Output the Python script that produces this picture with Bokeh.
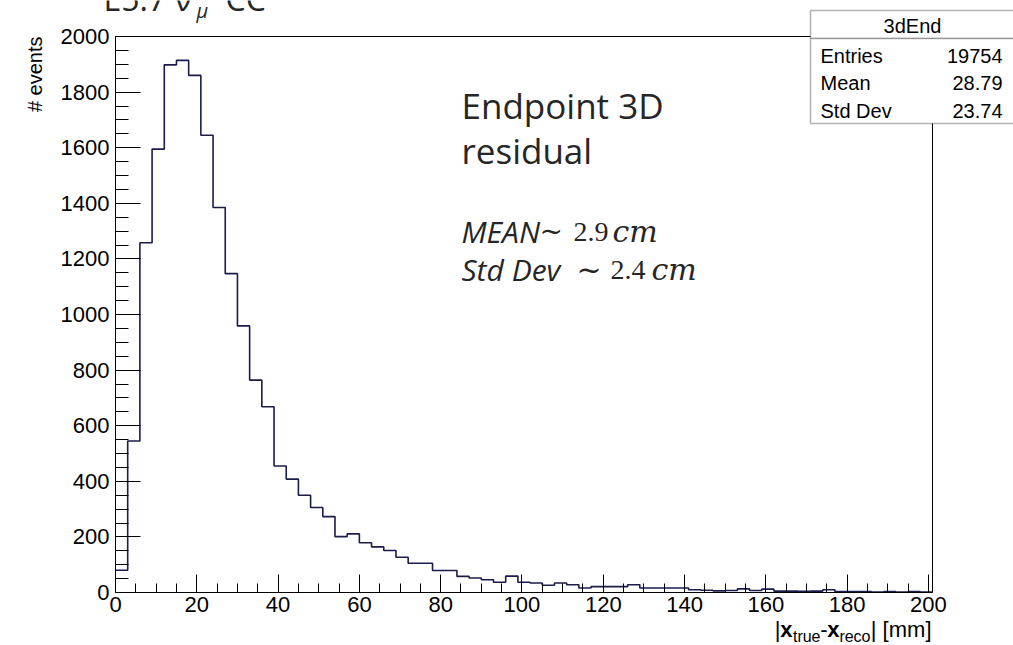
import numpy as np
from bokeh.plotting import figure
from bokeh.models import Range1d, FixedTicker, Label, BoxAnnotation, LinearAxis
from bokeh.embed import file_html
from bokeh.resources import INLINE

# ---- data: |x_true - x_reco| histogram, 3 mm bins from 0 to 201 mm ----
bin_width = 3.0
counts = [80, 545, 1258, 1595, 1898, 1914, 1860, 1645, 1385, 1147,
          959, 764, 668, 455, 408, 350, 306, 273, 201, 211,
          179, 164, 151, 127, 105, 105, 79, 79, 58, 52,
          46, 37, 59, 37, 34, 26, 34, 28, 16, 21,
          21, 21, 28, 16, 16, 16, 16, 10, 8, 6,
          7, 13, 7, 12, 5, 5, 4, 5, 10, 3,
          3, 3, 2, 3, 2, 3, 2]
x_major = list(range(0, 201, 20))
x_minor = list(range(0, 201, 5))
y_major = list(range(0, 2001, 200))
y_minor = list(range(0, 2001, 50))

stats_name = "3dEnd"
stats_rows = [("Entries", "19754"), ("Mean", "28.79"), ("Std Dev", "23.74")]

X_MAX = bin_width * len(counts)
Y_MAX = 2000

# page geometry (pixels from the top-left corner)
W, H = 1013, 645
PAD_L, PAD_R, PAD_T, PAD_B = 115, 932, 36, 592   # edges of the histogram frame
KX = (PAD_R - PAD_L) / X_MAX
KY = (PAD_B - PAD_T) / Y_MAX


def dx(px):
    """canvas pixel column -> data x"""
    return (px - PAD_L) / KX


def dy(py):
    """canvas pixel row (from top) -> data y"""
    return (PAD_B - py) / KY


# the plotting area covers the whole page; axes sit at fixed positions inside it
p = figure(width=W, height=H,
           x_range=Range1d(dx(0), dx(W)), y_range=Range1d(dy(H), dy(0)),
           output_backend="svg", toolbar_location=None, min_border=0)
p.xgrid.visible = False
p.ygrid.visible = False
p.outline_line_color = None
p.background_fill_color = "white"
p.border_fill_color = "white"

p.xaxis.fixed_location = 0
p.xaxis.bounds = (0, X_MAX)
p.yaxis.fixed_location = 0
p.yaxis.bounds = (0, Y_MAX)

for ax, maj, mnr, tin, min_in, stand in ((p.xaxis, x_major, x_minor, 18, 9, 4),
                                         (p.yaxis, y_major, y_minor, 25, 13, 6)):
    ax.ticker = FixedTicker(ticks=maj, minor_ticks=mnr)
    ax.axis_line_color = "black"
    ax.major_tick_line_color = "black"
    ax.minor_tick_line_color = "black"
    ax.major_tick_in = tin
    ax.major_tick_out = 0
    ax.minor_tick_in = min_in
    ax.minor_tick_out = 0
    ax.major_label_text_font = "Liberation Sans"
    ax.major_label_text_font_size = "22px"
    ax.major_label_text_color = "black"
    ax.major_label_standoff = stand

# closing edges of the frame (top and right), without ticks
top_edge = LinearAxis(fixed_location=Y_MAX, bounds=(0, X_MAX),
                      ticker=FixedTicker(ticks=[], minor_ticks=[]),
                      axis_line_color="black", major_tick_line_color=None,
                      minor_tick_line_color=None, major_label_text_font_size="0px")
right_edge = LinearAxis(fixed_location=X_MAX, bounds=(0, Y_MAX),
                        ticker=FixedTicker(ticks=[], minor_ticks=[]),
                        axis_line_color="black", major_tick_line_color=None,
                        minor_tick_line_color=None, major_label_text_font_size="0px")
p.add_layout(top_edge, "above")
p.add_layout(right_edge, "right")

# histogram outline
edges = np.arange(len(counts) + 1) * bin_width
p.step(edges, np.append(counts, counts[-1]), mode="after",
       line_color="#1c1c4c", line_width=1.6)


def lab(px, py, text, size, font="Liberation Sans", style="normal",
        align="left", color="black", angle=0.0):
    """text whose vertical middle sits at pixel row py"""
    p.add_layout(Label(x=dx(px), y=dy(py), text=text, text_font=font,
                       text_font_size=f"{size}px", text_font_style=style,
                       text_align=align, text_baseline="middle",
                       text_color=color, angle=angle))


# axis titles
lab(34, PAD_T, "# events", 20, align="right", angle=np.pi / 2)

xt_mid = 629
xt_sub = 636
lab(931, xt_mid, "| [mm]", 22, align="right")
lab(870, xt_sub, "reco", 16, align="right")
lab(839, xt_mid, "x", 22, style="bold", align="right")
lab(827, xt_mid, "-", 22, align="right")
lab(820, xt_sub, "true", 16, align="right")
lab(792, xt_mid, "x", 22, style="bold", align="right")
lab(780, xt_mid, "|", 22, align="right")

# stats box
p.add_layout(BoxAnnotation(left=dx(810), right=dx(1030), top=dy(10), bottom=dy(38),
                           fill_color="white", fill_alpha=1.0,
                           line_color="black", line_width=1.5))
p.add_layout(BoxAnnotation(left=dx(810), right=dx(1030), top=dy(38), bottom=dy(123),
                           fill_color="white", fill_alpha=1.0,
                           line_color="black", line_width=1.5))
lab(912, 25, stats_name, 20, align="center")
for i, (name, val) in enumerate(stats_rows):
    row_y = 55 + i * 27.5
    lab(820, row_y, name, 20)
    lab(1002, row_y, val, 20, align="right")

# annotation text
ink = "#262626"
lab(461, 105, "Endpoint 3D", 35, font="Open Sans", color=ink)
lab(461, 150, "residual", 35, font="Open Sans", color=ink)

lab(461, 231, "MEAN", 30, font="Open Sans", style="italic", color=ink)
lab(539, 231, "~", 28, font="DejaVu Serif", color=ink)
lab(573, 231, "2.9", 28, font="Liberation Serif", color=ink)
lab(612, 231, "cm", 30, font="DejaVu Serif", style="italic", color=ink)

lab(461, 269, "Std Dev", 30, font="Open Sans", style="italic", color=ink)
lab(576, 269, "~", 30, font="DejaVu Serif", color=ink)
lab(610, 269, "2.4", 28, font="Liberation Serif", color=ink)
lab(651, 269, "cm", 30, font="DejaVu Serif", style="italic", color=ink)

# slide heading running off the top edge
lab(103, -2, "E5.7 \u03bd", 32, font="Open Sans", color=ink)
lab(196, 10, "\u03bc", 20, font="Open Sans", style="italic", color=ink)
lab(225, -2, "CC", 32, font="Open Sans", color=ink)

open("out.html", "w").write(file_html(p, INLINE))
